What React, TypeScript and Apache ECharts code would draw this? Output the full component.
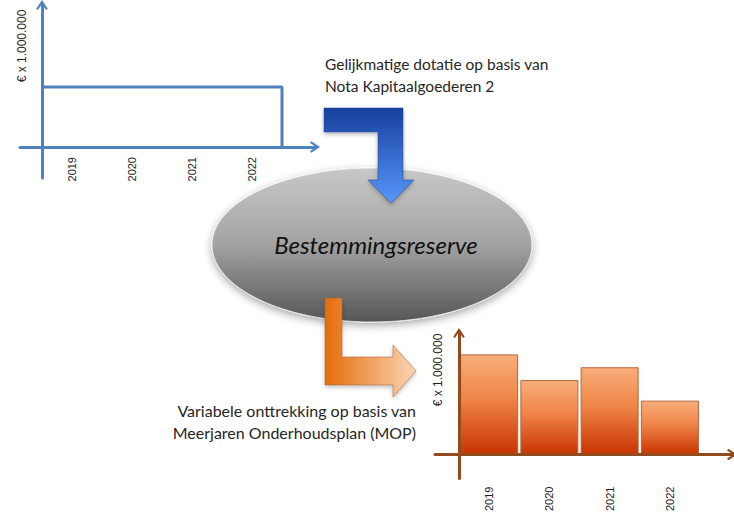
import React, { useEffect, useRef } from 'react';
import * as echarts from 'echarts';

// ---- data ----
const years = ['2019', '2020', '2021', '2022'];
const dotatie = [3, 3, 3, 3]; // gelijkmatige dotatie (top chart)
const onttrekking = [3.9, 2.9, 3.4, 2.1]; // variabele onttrekking (bottom chart)
const yName = '€ x 1.000.000';
const topText = ['Gelijkmatige dotatie op basis van', 'Nota Kapitaalgoederen 2'];
const bottomText = ['Variabele onttrekking op basis van', 'Meerjaren Onderhoudsplan (MOP)'];
const centerText = 'Bestemmingsreserve';

const labelPos = years.map((_, i) => i + 0.5);

const BLUE = '#4f81bd';
const BROWN = '#934a1c';
const CHEVRON = 'path://M0,9 L6,0 L12,9 L10.2,10.4 L6,4 L1.8,10.4 Z';

export default function App() {
  const ref = useRef<HTMLDivElement>(null);

  useEffect(() => {
    if (!ref.current) return;
    const chart = echarts.init(ref.current, undefined, { renderer: 'svg' });

    const stepData: number[][] = [];
    dotatie.forEach((v, i) => {
      stepData.push([i, v]);
      stepData.push([i + 1, v]);
    });
    stepData.push([dotatie.length, 0]);

    const barData = onttrekking.map((v, i) => [labelPos[i], v]);

    const yearFormatter = (v: number) => {
      const idx = labelPos.findIndex((p) => Math.abs(p - v) < 1e-6);
      return idx >= 0 ? years[idx] : '';
    };

    const labelStyle = (margin: number) => ({
      color: '#222',
      fontSize: 11,
      fontFamily: 'Liberation Sans, Arial, sans-serif',
      rotate: 90,
      margin,
      customValues: labelPos,
      formatter: yearFormatter,
    });

    const axisLine = (color: string) => ({
      onZero: true,
      lineStyle: { color, width: 3 },
      symbol: ['none', CHEVRON],
      symbolSize: [13, 10],
    });

    const grayGrad = new echarts.graphic.LinearGradient(0, 0, 0, 1, [
      { offset: 0, color: '#c8c8c8' },
      { offset: 0.5, color: '#a2a2a2' },
      { offset: 1, color: '#565656' },
    ]);
    const blueGrad = new echarts.graphic.LinearGradient(0, 0, 0, 1, [
      { offset: 0, color: '#173f9e' },
      { offset: 1, color: '#5797fb' },
    ]);
    const orangeGrad = new echarts.graphic.LinearGradient(0, 0, 1, 0, [
      { offset: 0, color: '#e46c0a' },
      { offset: 1, color: '#fcd5b5' },
    ]);
    const barGrad = new echarts.graphic.LinearGradient(0, 0, 0, 1, [
      { offset: 0, color: '#f9ae7b' },
      { offset: 0.45, color: '#ef8447' },
      { offset: 1, color: '#c93300' },
    ]);

    const textFont = { fontFamily: 'Lato, sans-serif', fill: '#262626', lineHeight: 22 };

    chart.setOption({
      animation: false,
      backgroundColor: '#ffffff',
      grid: [
        { left: 20, top: 5, width: 295, height: 173 },
        { left: 435, top: 333, width: 297, height: 170 },
      ],
      xAxis: [
        {
          type: 'value',
          gridIndex: 0,
          min: -22 / 60,
          max: 4 + 33 / 60,
          axisLine: axisLine(BLUE),
          axisTick: { show: false },
          splitLine: { show: false },
          axisLabel: labelStyle(-21),
        },
        {
          type: 'value',
          gridIndex: 1,
          min: -24 / 60.25,
          max: 4 + 32 / 60.25,
          z: 5,
          axisLine: axisLine(BROWN),
          axisTick: { show: false },
          splitLine: { show: false },
          axisLabel: labelStyle(8),
        },
      ],
      yAxis: [
        {
          type: 'value',
          gridIndex: 0,
          min: -31 / 20,
          max: 142 / 20,
          axisLine: axisLine(BLUE),
          axisTick: { show: false },
          splitLine: { show: false },
          axisLabel: { show: false },
        },
        {
          type: 'value',
          gridIndex: 1,
          min: -28 / 30,
          max: 142 / 30,
          z: 5,
          axisLine: axisLine(BROWN),
          axisTick: { show: false },
          splitLine: { show: false },
          axisLabel: { show: false },
        },
      ],
      series: [
        {
          type: 'line',
          xAxisIndex: 0,
          yAxisIndex: 0,
          data: stepData,
          symbol: 'none',
          lineStyle: { color: BLUE, width: 3 },
          clip: false,
        },
        {
          type: 'bar',
          xAxisIndex: 1,
          yAxisIndex: 1,
          data: barData,
          barWidth: 58,
          itemStyle: { color: barGrad, borderColor: '#b4643a', borderWidth: 1 },
        },
      ],
      graphic: [
        {
          type: 'ellipse',
          z: 10,
          shape: { cx: 372, cy: 245, rx: 160, ry: 77 },
          style: {
            fill: grayGrad,
            stroke: 'rgba(255,255,255,0.7)',
            lineWidth: 1,
            shadowBlur: 8,
            shadowOffsetY: 3,
            shadowColor: 'rgba(0,0,0,0.35)',
          },
        },
        {
          type: 'text',
          z: 13,
          x: 376,
          y: 244,
          style: {
            text: centerText,
            fontSize: 24,
            fontStyle: 'italic',
            fontFamily: 'Lato, sans-serif',
            fill: '#111',
            align: 'center',
            verticalAlign: 'middle',
          },
        },
        {
          type: 'polygon',
          z: 11,
          shape: {
            points: [
              [324, 108], [403, 108], [403, 180], [414, 180], [391, 203],
              [368, 180], [378, 180], [378, 132], [324, 132],
            ],
          },
          style: {
            fill: blueGrad,
            stroke: 'rgba(40,70,150,0.5)',
            lineWidth: 1,
            shadowBlur: 4,
            shadowOffsetY: 2,
            shadowColor: 'rgba(0,0,0,0.3)',
          },
        },
        {
          type: 'polygon',
          z: 11,
          shape: {
            points: [
              [325, 298], [342, 298], [342, 357], [393, 357], [393, 345],
              [416, 371], [393, 397], [393, 385], [325, 385],
            ],
          },
          style: {
            fill: orangeGrad,
            stroke: 'rgba(160,100,60,0.55)',
            lineWidth: 1,
            shadowBlur: 4,
            shadowOffsetY: 2,
            shadowColor: 'rgba(0,0,0,0.25)',
          },
        },
        {
          type: 'text',
          z: 12,
          x: 325,
          y: 75,
          style: { ...textFont, fontSize: 15.5, text: topText.join('\n'), align: 'left', verticalAlign: 'middle' },
        },
        {
          type: 'text',
          z: 12,
          x: 416,
          y: 421.5,
          style: { ...textFont, fontSize: 16, text: bottomText.join('\n'), align: 'right', verticalAlign: 'middle' },
        },
        {
          type: 'text',
          z: 12,
          x: 22,
          y: 46,
          rotation: Math.PI / 2,
          style: {
            text: yName,
            fontSize: 12,
            fontFamily: 'Liberation Sans, Arial, sans-serif',
            fill: '#222',
            align: 'center',
            verticalAlign: 'middle',
          },
        },
        {
          type: 'text',
          z: 12,
          x: 438,
          y: 370,
          rotation: Math.PI / 2,
          style: {
            text: yName,
            fontSize: 12,
            fontFamily: 'Liberation Sans, Arial, sans-serif',
            fill: '#222',
            align: 'center',
            verticalAlign: 'middle',
          },
        },
      ],
    });

    return () => chart.dispose();
  }, []);

  return (
    <div
      ref={ref}
      style={{ position: 'absolute', left: 0, top: 0, width: 734, height: 514, background: '#fff' }}
    />
  );
}
